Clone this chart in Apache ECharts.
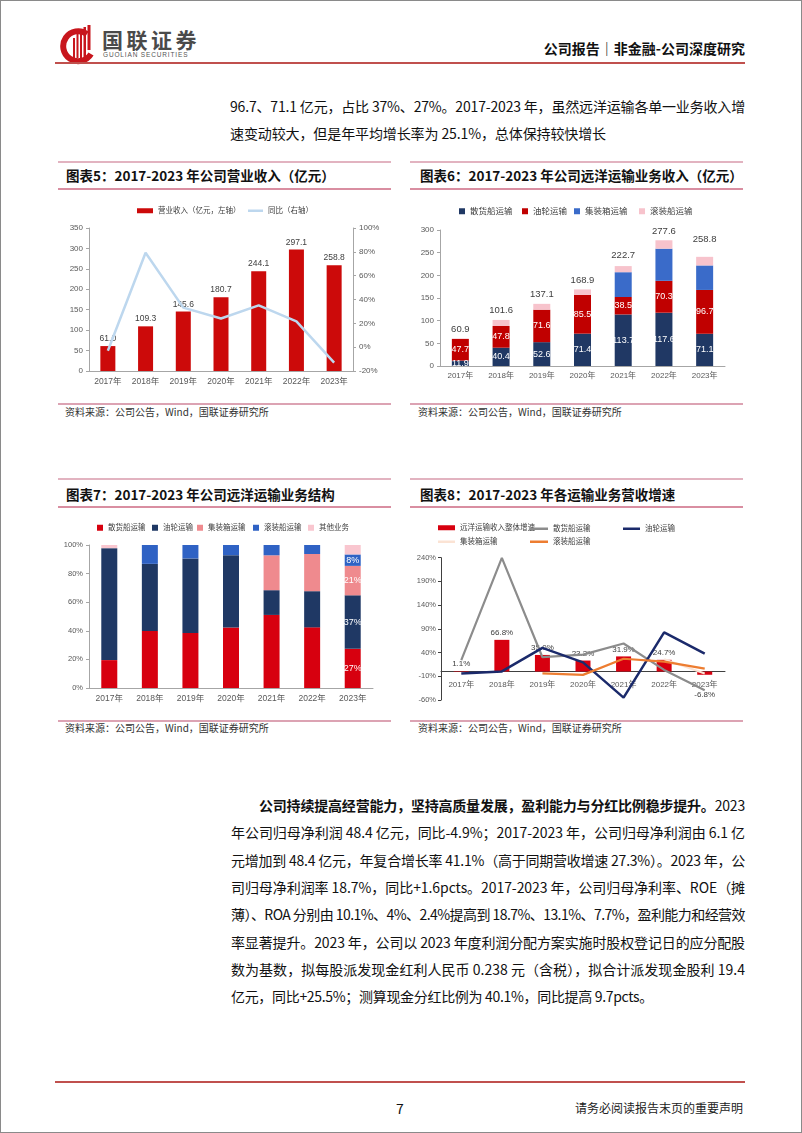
<!DOCTYPE html>
<html><head><meta charset="utf-8">
<script src="https://cdn.jsdelivr.net/npm/echarts@6.0.0/dist/echarts.min.js"></script>
<style>
html,body{margin:0;padding:0;background:#fff;}
body{width:802px;height:1133px;position:relative;overflow:hidden;font-family:"Noto Sans CJK SC",sans-serif;color:#111;}
.frame{position:absolute;left:0;top:0;width:800px;height:1131px;border:1px solid #8a8a8a;}
.t{position:absolute;white-space:nowrap;display:inline-block;}
.hl{position:absolute;height:2px;}
.chart{position:absolute;width:360px;height:200px;}
</style></head>
<body>
<div class="frame"></div>

<!-- header -->
<svg style="position:absolute;left:60px;top:24px" width="36" height="42" viewBox="0 0 36 42">
  <path d="M27 10 A15 15 0 1 0 31 30" fill="none" stroke="#c8161d" stroke-width="6"/>
  <rect x="13" y="14" width="2" height="20" fill="#c8161d"/>
  <rect x="16.5" y="10" width="2" height="24" fill="#c8161d"/>
  <rect x="20" y="6" width="2" height="28" fill="#c8161d"/>
  <rect x="23.5" y="3" width="2.5" height="31" fill="#c8161d"/>
  <rect x="27.5" y="1" width="3" height="25" fill="#c8161d"/>
</svg>
<span class="t" style="left:102px;top:27px;font-size:21px;line-height:24px;color:#4a4a4a;font-weight:700;letter-spacing:3.5px;">国联证券</span>
<span class="t" style="left:103px;top:51px;font-size:6.5px;line-height:8px;color:#555;letter-spacing:0.85px;font-family:'Liberation Sans',sans-serif;">GUOLIAN SECURITIES</span>
<span class="t" style="right:57px;top:39px;font-size:14px;line-height:18px;font-weight:700;color:#111;">公司报告｜非金融-公司深度研究</span>
<div class="hl" style="left:55px;top:62px;width:690px;background:#c0504d;"></div>

<!-- top paragraph -->
<span class="t fit" data-w="515" style="left:230px;top:96px;font-size:14px;line-height:20px;">96.7、71.1 亿元，占比 37%、27%。2017-2023 年，虽然远洋运输各单一业务收入增</span>
<span class="t fit" data-w="376" style="left:230px;top:123px;font-size:14px;line-height:20px;">速变动较大，但是年平均增长率为 25.1%，总体保持较快增长</span>

<!-- chart boxes -->
<div class="hl" style="left:58px;top:161px;width:333px;height:1.5px;background:#e2b3c0;"></div>
<div class="hl" style="left:410px;top:161px;width:333px;height:1.5px;background:#e2b3c0;"></div>
<span class="t" style="left:66px;top:166px;font-size:13.5px;line-height:19px;font-weight:700;">图表5：2017-2023 年公司营业收入（亿元）</span>
<span class="t" style="left:420px;top:166px;font-size:13.5px;line-height:19px;font-weight:700;">图表6：2017-2023 年公司远洋运输业务收入（亿元）</span>
<div class="hl" style="left:58px;top:188px;width:333px;background:#d98ea1;"></div>
<div class="hl" style="left:410px;top:188px;width:333px;background:#d98ea1;"></div>
<div id="c5" class="chart" style="left:40px;top:195px;"></div>
<div id="c6" class="chart" style="left:405px;top:195px;"></div>
<div class="hl" style="left:58px;top:403px;width:333px;background:#dca3b3;"></div>
<div class="hl" style="left:410px;top:403px;width:333px;background:#dca3b3;"></div>
<span class="t" style="left:65px;top:405px;font-size:10px;line-height:14px;color:#333;">资料来源：公司公告，Wind，国联证券研究所</span>
<span class="t" style="left:418px;top:405px;font-size:10px;line-height:14px;color:#333;">资料来源：公司公告，Wind，国联证券研究所</span>

<div class="hl" style="left:58px;top:478px;width:333px;height:1.5px;background:#e2b3c0;"></div>
<div class="hl" style="left:410px;top:478px;width:333px;height:1.5px;background:#e2b3c0;"></div>
<span class="t" style="left:66px;top:485px;font-size:13.5px;line-height:19px;font-weight:700;">图表7：2017-2023 年公司远洋运输业务结构</span>
<span class="t" style="left:420px;top:485px;font-size:13.5px;line-height:19px;font-weight:700;">图表8：2017-2023 年各运输业务营收增速</span>
<div class="hl" style="left:58px;top:506px;width:333px;background:#d98ea1;"></div>
<div class="hl" style="left:410px;top:506px;width:333px;background:#d98ea1;"></div>
<div id="c7" class="chart" style="left:40px;top:512px;"></div>
<div id="c8" class="chart" style="left:405px;top:512px;"></div>
<div class="hl" style="left:58px;top:720px;width:333px;background:#dca3b3;"></div>
<div class="hl" style="left:410px;top:720px;width:333px;background:#dca3b3;"></div>
<span class="t" style="left:65px;top:721px;font-size:10px;line-height:14px;color:#333;">资料来源：公司公告，Wind，国联证券研究所</span>
<span class="t" style="left:418px;top:721px;font-size:10px;line-height:14px;color:#333;">资料来源：公司公告，Wind，国联证券研究所</span>

<!-- body paragraph -->
<span class="t fit" data-w="486" style="left:259px;top:795px;font-size:14px;line-height:20px;"><b>公司持续提高经营能力，坚持高质量发展，盈利能力与分红比例稳步提升。</b>2023</span>
<span class="t fit" data-w="514" style="left:231px;top:822px;font-size:14px;line-height:20px;">年公司归母净利润 48.4 亿元，同比-4.9%；2017-2023 年，公司归母净利润由 6.1 亿</span>
<span class="t fit" data-w="514" style="left:231px;top:849.5px;font-size:14px;line-height:20px;">元增加到 48.4 亿元，年复合增长率 41.1%（高于同期营收增速 27.3%）。2023 年，公</span>
<span class="t fit" data-w="514" style="left:231px;top:877px;font-size:14px;line-height:20px;">司归母净利润率 18.7%，同比+1.6pcts。2017-2023 年，公司归母净利率、ROE（摊</span>
<span class="t fit" data-w="514" style="left:231px;top:904px;font-size:14px;line-height:20px;">薄）、ROA 分别由 10.1%、4%、2.4%提高到 18.7%、13.1%、7.7%，盈利能力和经营效</span>
<span class="t fit" data-w="514" style="left:231px;top:931.5px;font-size:14px;line-height:20px;">率显著提升。2023 年，公司以 2023 年度利润分配方案实施时股权登记日的应分配股</span>
<span class="t fit" data-w="514" style="left:231px;top:959px;font-size:14px;line-height:20px;">数为基数，拟每股派发现金红利人民币 0.238 元（含税），拟合计派发现金股利 19.4</span>
<span class="t fit" data-w="422" style="left:231px;top:986px;font-size:14px;line-height:20px;">亿元，同比+25.5%；测算现金分红比例为 40.1%，同比提高 9.7pcts。</span>

<!-- footer -->
<div class="hl" style="left:55px;top:1081px;width:690px;background:#c0504d;"></div>
<span class="t" style="left:396px;top:1099px;font-size:14px;line-height:18px;">7</span>
<span class="t" style="right:59px;top:1100px;font-size:12px;line-height:16px;color:#222;">请务必阅读报告末页的重要声明</span>

<script>
// ---------- data ----------
const years = ['2017年','2018年','2019年','2020年','2021年','2022年','2023年'];

// 图表5
const revenue = [61.0, 109.3, 145.6, 180.7, 244.1, 297.1, 258.8];
const revenueYoY = [-3, 79.2, 33.2, 24.1, 35.1, 21.7, -12.9];

// 图表6
const bulkRev = [11.9, 40.4, 52.6, 71.4, 113.7, 117.6, 71.1];
const tankerRev = [47.7, 47.8, 71.6, 85.5, 38.5, 70.3, 96.7];
const containerRev = [0, 0, 0, 0, 54.7, 70.9, 54.0];
const roroRev = [1.3, 13.4, 12.9, 12.0, 13.5, 18.5, 19.0];
const oceanTotal = [60.9, 101.6, 137.1, 168.9, 222.7, 277.6, 258.8];

// 图表7 (%)
const bulkShare = [19.5, 39.8, 38.4, 42.3, 51.1, 42.4, 27.4];
const tankerShare = [78.3, 47.0, 52.2, 50.6, 17.3, 25.3, 37.4];
const containerShare = [0, 0, 0, 0, 24.4, 26.0, 20.6];
const roroShare = [0, 13.2, 9.4, 7.1, 7.2, 6.3, 8.0];
const otherShare = [2.2, 0, 0, 0, 0, 0, 6.6];

// 图表8 (%)
const oceanGrowth = [1.1, 66.8, 35.0, 23.2, 31.9, 24.7, -6.8];
const bulkGrowth = [24, 239.5, 30.2, 35.7, 59.2, 3.4, -39.5];
const tankerGrowth = [-4, 0.2, 49.8, 19.4, -55.0, 82.6, 37.6];
const containerGrowth = [null, null, null, null, null, 26, -4];
const roroGrowth = [null, null, -4, -7, 27, 21, 6];

// ---------- text fitting ----------
document.querySelectorAll('.fit').forEach(el => {
  const target = +el.dataset.w;
  el.style.letterSpacing = '0px';
  const w = el.getBoundingClientRect().width;
  const n = el.textContent.length;
  el.style.letterSpacing = ((target - w) / n) + 'px';
});

// ---------- charts ----------
const FONT = '"Liberation Sans","Noto Sans CJK SC",sans-serif';
const AXC = '#a6a6a6';
const LBL = '#595959';

function leg(name, left, top, icon, w, h, fs) {
  return { data: [name], left: left, top: top, padding: 0, icon: icon || 'rect',
    itemWidth: w, itemHeight: h, selectedMode: false,
    textStyle: { fontSize: fs || 7.5, color: '#404040', fontFamily: FONT } };
}
function yAx(extra) {
  return Object.assign({
    type: 'value', splitLine: { show: false },
    axisLine: { show: true, lineStyle: { color: AXC } },
    axisTick: { show: true, length: 3, lineStyle: { color: AXC } },
    axisLabel: { fontSize: 8, color: LBL, margin: 6, fontFamily: FONT }
  }, extra);
}
function xAx(extra) {
  return Object.assign({
    type: 'category', data: years,
    axisLine: { lineStyle: { color: AXC } }, axisTick: { show: false },
    axisLabel: { fontSize: 8.5, color: LBL, margin: 6, fontFamily: FONT }
  }, extra);
}

// 图表5
echarts.init(document.getElementById('c5')).setOption({
  animation: false,
  textStyle: { fontFamily: FONT },
  legend: [
    leg('营业收入（亿元，左轴）', 97, 12, 'rect', 16, 5),
    leg('同比（右轴）', 208, 12, 'rect', 15, 2.5)
  ],
  grid: { left: 49, top: 33, width: 264, height: 143 },
  xAxis: xAx({}),
  yAxis: [
    yAx({ min: 0, max: 350, interval: 50 }),
    yAx({ min: -20, max: 100, interval: 20, position: 'right',
      axisLabel: { fontSize: 8, color: LBL, margin: 6, formatter: '{value}%', fontFamily: FONT } })
  ],
  series: [
    { type: 'bar', name: '营业收入（亿元，左轴）', data: revenue, barWidth: 15,
      itemStyle: { color: '#cc0a0a' },
      label: { show: true, position: 'top', distance: 3, fontSize: 8.5, color: '#404040',
        formatter: p => p.value.toFixed(1) } },
    { type: 'line', name: '同比（右轴）', yAxisIndex: 1, data: revenueYoY, symbol: 'none',
      itemStyle: { color: '#bdd7ee' }, lineStyle: { color: '#bdd7ee', width: 2.5 } }
  ]
});

// 图表6
const inLbl = { show: true, position: 'inside', color: '#fff', fontSize: 9, formatter: p => p.value.toFixed(1) };
echarts.init(document.getElementById('c6')).setOption({
  animation: false,
  textStyle: { fontFamily: FONT },
  legend: [
    leg('散货船运输', 54, 12, 'rect', 6, 6, 8.5),
    leg('油轮运输', 117, 12, 'rect', 6, 6, 8.5),
    leg('集装箱运输', 169, 12, 'rect', 6, 6, 8.5),
    leg('滚装船运输', 234, 12, 'rect', 6, 6, 8.5)
  ],
  grid: { left: 35, top: 35, width: 285, height: 136 },
  xAxis: xAx({ axisLabel: { fontSize: 8, color: LBL, margin: 6, fontFamily: FONT } }),
  yAxis: yAx({ min: 0, max: 300, interval: 50 }),
  series: [
    { type: 'bar', name: '散货船运输', stack: 's', data: bulkRev, barWidth: 17,
      itemStyle: { color: '#203864' }, label: inLbl },
    { type: 'bar', name: '油轮运输', stack: 's', data: tankerRev,
      itemStyle: { color: '#c00000' }, label: inLbl },
    { type: 'bar', name: '集装箱运输', stack: 's', data: containerRev,
      itemStyle: { color: '#3a6bc9' } },
    { type: 'bar', name: '滚装船运输', stack: 's', data: roroRev,
      itemStyle: { color: '#f7c3cc' } },
    { type: 'line', name: 'total', data: oceanTotal, symbol: 'circle', symbolSize: 1,
      lineStyle: { opacity: 0 }, itemStyle: { color: 'rgba(0,0,0,0)' },
      label: { show: true, position: 'top', distance: 4, fontSize: 9.5, color: '#404040',
        formatter: p => p.value.toFixed(1) } }
  ]
});

// 图表7
const lastLbl = (arr) => arr.map((v, i) => i === 6 ? { value: v, label: { show: true } } : v);
const pctLbl = { show: false, position: 'inside', color: '#fff', fontSize: 9,
  formatter: p => Math.round(p.value) + '%' };
echarts.init(document.getElementById('c7')).setOption({
  animation: false,
  textStyle: { fontFamily: FONT },
  legend: [
    leg('散货船运输', 57, 12, 'rect', 6, 6),
    leg('油轮运输', 112, 12, 'rect', 6, 6),
    leg('集装箱运输', 157, 12, 'rect', 6, 6),
    leg('滚装船运输', 213, 12, 'rect', 6, 6),
    leg('其他业务', 268, 12, 'rect', 6, 6)
  ],
  grid: { left: 49, top: 33, width: 284, height: 143 },
  xAxis: xAx({}),
  yAxis: yAx({ min: 0, max: 100, interval: 20,
    axisLabel: { fontSize: 7.5, color: LBL, margin: 6, formatter: '{value}%', fontFamily: FONT } }),
  series: [
    { type: 'bar', name: '散货船运输', stack: 's', data: lastLbl(bulkShare), barWidth: 16,
      itemStyle: { color: '#d7000f' }, label: pctLbl },
    { type: 'bar', name: '油轮运输', stack: 's', data: lastLbl(tankerShare),
      itemStyle: { color: '#1f3864' }, label: pctLbl },
    { type: 'bar', name: '集装箱运输', stack: 's', data: lastLbl(containerShare),
      itemStyle: { color: '#ef8a8e' }, label: pctLbl },
    { type: 'bar', name: '滚装船运输', stack: 's', data: lastLbl(roroShare),
      itemStyle: { color: '#2f62c4' }, label: pctLbl },
    { type: 'bar', name: '其他业务', stack: 's', data: otherShare,
      itemStyle: { color: '#f9c6cf' } }
  ]
});

// 图表8
const DARK = '#404040';
echarts.init(document.getElementById('c8')).setOption({
  animation: false,
  textStyle: { fontFamily: FONT },
  legend: [
    leg('远洋运输收入整体增速', 33, 12, 'rect', 17, 5),
    leg('散货船运输', 125, 13, 'rect', 18, 2.5),
    leg('油轮运输', 218, 13, 'rect', 17, 2.5),
    leg('集装箱运输', 33, 26, 'rect', 17, 2.5),
    leg('滚装船运输', 125, 26, 'rect', 18, 2.5)
  ],
  grid: { left: 36, top: 45.7, width: 284, height: 142.3 },
  xAxis: xAx({ axisLine: { onZero: true, lineStyle: { color: DARK } },
    axisLabel: { fontSize: 8, color: LBL, margin: -19, fontFamily: FONT } }),
  yAxis: yAx({ min: -60, max: 240, interval: 50,
    axisLine: { show: true, lineStyle: { color: DARK } },
    axisTick: { show: true, length: 3, lineStyle: { color: DARK } },
    axisLabel: { fontSize: 7.5, color: LBL, margin: 5, formatter: '{value}%', fontFamily: FONT } }),
  series: [
    { type: 'bar', name: '远洋运输收入整体增速', barWidth: 15,
      data: oceanGrowth.map(v => v < 0 ? { value: v, label: { position: 'bottom', distance: 16 } } : v),
      itemStyle: { color: '#d7000f' },
      label: { show: true, position: 'top', distance: 3, fontSize: 8, color: '#404040',
        formatter: p => p.value.toFixed(1) + '%' } },
    { type: 'line', name: '散货船运输', data: bulkGrowth, symbol: 'none',
      itemStyle: { color: '#8c8c8c' }, lineStyle: { color: '#8c8c8c', width: 2.2 } },
    { type: 'line', name: '油轮运输', data: tankerGrowth, symbol: 'none',
      itemStyle: { color: '#1b2a6b' }, lineStyle: { color: '#1b2a6b', width: 2.5 } },
    { type: 'line', name: '集装箱运输', data: containerGrowth, symbol: 'none',
      itemStyle: { color: '#fbe3d4' }, lineStyle: { color: '#fbe3d4', width: 2 } },
    { type: 'line', name: '滚装船运输', data: roroGrowth, symbol: 'none',
      itemStyle: { color: '#ed7d31' }, lineStyle: { color: '#ed7d31', width: 2.2 } }
  ]
});
</script>
</body></html>
